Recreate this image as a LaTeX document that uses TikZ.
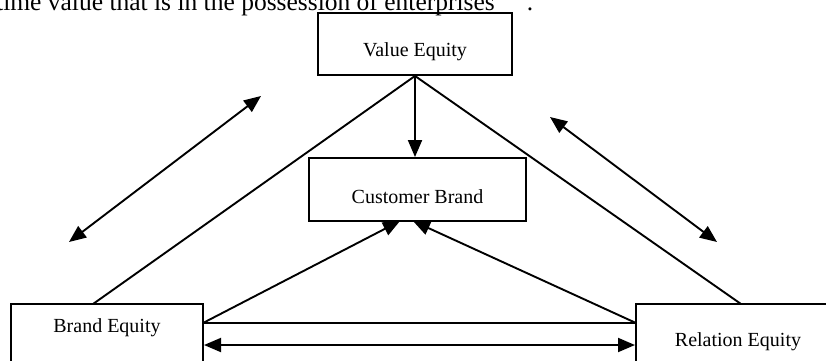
\documentclass[tikz,border=0pt]{standalone}
\usepackage{fontspec}
\setmainfont{Liberation Serif}
\usetikzlibrary{arrows.meta}
\begin{document}
\begin{tikzpicture}[x=1pt,y=-1pt,
  box/.style={draw, line width=1.9pt, rectangle, inner sep=0pt},
  boxtext/.style={font=\fontsize{20}{23}\selectfont},
  conn/.style={line width=1.9pt},
  arr/.style={conn, -{Triangle[length=17pt,width=14pt]}},
  darr/.style={conn, {Triangle[length=17pt,width=14pt]}-{Triangle[length=17pt,width=14pt]}}]
\useasboundingbox (0,0) rectangle (826,360);
\clip (0,0) rectangle (826,360);
\fill[white] (0,0) rectangle (826,360);

\node[anchor=base west, inner sep=0pt, font=\fontsize{25.5}{28}\selectfont] (head) at (-4,10)
  {time value that is in the possession of enterprises\hspace{32pt}.};

\node[box, minimum width=194pt, minimum height=62pt,
  label={[boxtext, yshift=-8pt]center:Value Equity}] (ve) at (415,44) {};
\node[box, minimum width=217pt, minimum height=63pt,
  label={[boxtext, yshift=-7.5pt]center:Customer Brand}] (cb) at (417.5,189.5) {};
\node[box, minimum width=192pt, minimum height=62pt,
  label={[boxtext, yshift=7pt]center:Brand Equity}] (be) at (107,335) {};
\node[box, minimum width=204pt, minimum height=80pt,
  label={[boxtext, yshift=2pt]center:Relation Equity}] (re) at (738,344) {};

% attachment points
\coordinate (veB) at (ve.south);
\coordinate (beT) at (93,304);
\coordinate (reT) at (741,304);
\coordinate (beR) at (203,323);
\coordinate (reL) at (636,323);
\coordinate (cbL) at (400,221);
\coordinate (cbR) at (413,221);

\draw[conn] (beT) -- (veB);
\draw[conn] (reT) -- (veB);
\draw[conn] (beR) -- (reL);
\draw[arr] (beR) -- (cbL);
\draw[arr] (reL) -- (cbR);
\draw[arr] (veB) -- (veB |- cb.north);

% free double arrows
\coordinate (h1) at (204,345);
\coordinate (h2) at (635,345);
\coordinate (l1) at (69,242);
\coordinate (l2) at (261,96);
\coordinate (r1) at (550,117);
\coordinate (r2) at (717,242);
\draw[darr] (h1) -- (h2);
\draw[darr] (l1) -- (l2);
\draw[darr] (r1) -- (r2);
\end{tikzpicture}
\end{document}
